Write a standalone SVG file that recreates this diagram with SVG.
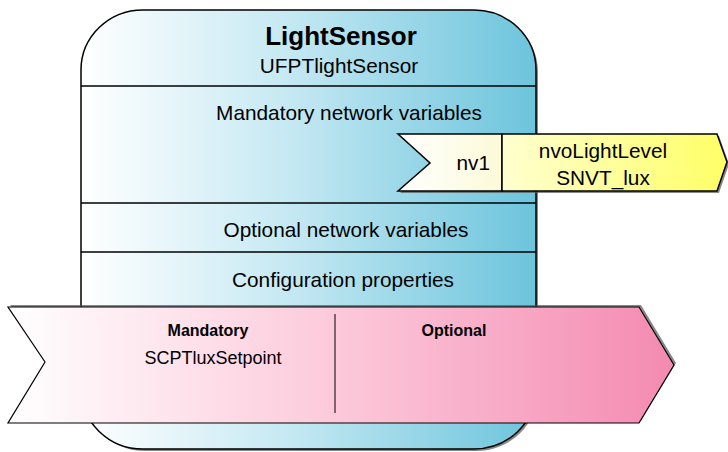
<svg xmlns="http://www.w3.org/2000/svg" width="728" height="452" viewBox="0 0 728 452">
<defs>
<linearGradient id="gBlue" x1="0" y1="0" x2="1" y2="0">
<stop offset="0" stop-color="#ffffff"/>
<stop offset="0.45" stop-color="#c6e9f3"/>
<stop offset="1" stop-color="#6cc4dc"/>
</linearGradient>
<linearGradient id="gPink" x1="0" y1="0" x2="1" y2="0">
<stop offset="0" stop-color="#ffffff"/>
<stop offset="0.5" stop-color="#fcc8da"/>
<stop offset="1" stop-color="#f48ab0"/>
</linearGradient>
<linearGradient id="gYel" x1="0" y1="0" x2="1" y2="0">
<stop offset="0" stop-color="#ffffd0"/>
<stop offset="1" stop-color="#ffff66"/>
</linearGradient>
<linearGradient id="gYelL" x1="0" y1="0" x2="1" y2="0">
<stop offset="0" stop-color="#ffffff"/>
<stop offset="1" stop-color="#fcfad8"/>
</linearGradient>
<style>
text{font-family:"Liberation Sans",Arial,sans-serif;fill:#000}
.ln{stroke:#000;stroke-width:1.5;fill:none}
.sh{fill:#555;opacity:0.7}
.t{font-size:20.8px;text-anchor:middle}
</style>
</defs>
<g id="LightSensor">
<rect x="83" y="12" width="455" height="439" rx="62" ry="60" class="sh"/>
<rect x="81" y="10" width="455" height="439" rx="62" ry="60" fill="url(#gBlue)" stroke="#000" stroke-width="1.5"/>
<line x1="81" y1="86" x2="536" y2="86" class="ln"/>
<line x1="81" y1="203" x2="536" y2="203" class="ln"/>
<line x1="81" y1="252" x2="536" y2="252" class="ln"/>
<text x="341" y="45" font-size="26" font-weight="bold" text-anchor="middle">LightSensor</text>
<text x="339" y="73" class="t">UFPTlightSensor</text>
<text x="349" y="120" class="t">Mandatory network variables</text>
<text x="346" y="237" class="t">Optional network variables</text>
<text x="343" y="287" class="t">Configuration properties</text>
</g>
<g id="nv1">
<path d="M400,136 L719,136 L729,164 L719,193 L400,193 L432,165 Z" class="sh"/>
<path d="M398,134 L502,134 L502,191 L398,191 L430,163 Z" fill="url(#gYelL)" stroke="#000" stroke-width="1.5"/>
<path d="M502,134 L717,134 L727,162 L717,191 L502,191 Z" fill="url(#gYel)" stroke="#000" stroke-width="1.5"/>
<text x="490" y="170" font-size="20.8" text-anchor="end">nv1</text>
<text x="603" y="158" class="t">nvoLightLevel</text>
<text x="603" y="185" class="t">SNVT_lux</text>
</g>
<g id="ConfigProperties">
<path d="M10,305 L641,305 L676,363 L641,421 L10,421 L47,360 Z" class="sh"/>
<path d="M8,307 L639,307 L674,365 L639,423 L8,423 L45,362 Z" fill="url(#gPink)" stroke="#000" stroke-width="1.2"/>
<line x1="335" y1="314" x2="335" y2="413" stroke="#000" stroke-width="1"/>
<text x="208" y="336" font-size="16" font-weight="bold" text-anchor="middle">Mandatory</text>
<text x="213" y="364" font-size="18" text-anchor="middle">SCPTluxSetpoint</text>
<text x="454" y="336" font-size="16" font-weight="bold" text-anchor="middle">Optional</text>
</g>
<g id="connectors"/>
</svg>
